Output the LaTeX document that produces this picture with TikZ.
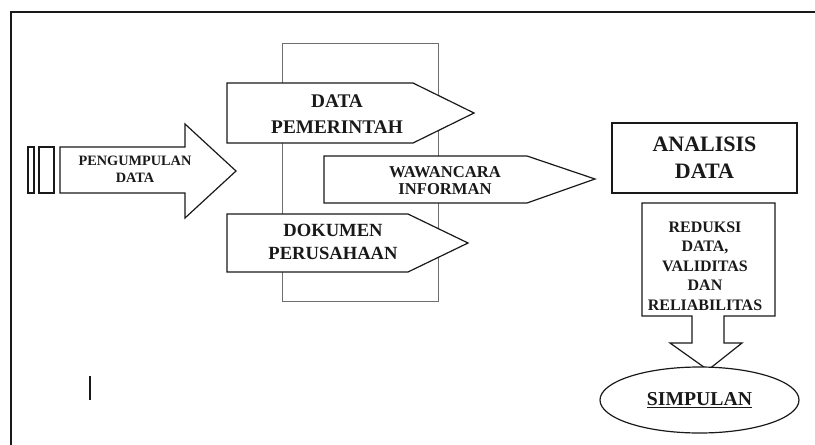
\documentclass[tikz,border=0pt]{standalone}
\usepackage{fontspec}
\setmainfont{Liberation Serif}
\usepackage{xcolor}
\definecolor{ink}{RGB}{25,25,25}
\definecolor{panelgray}{RGB}{110,110,110}
\usetikzlibrary{shapes.geometric,positioning}
\tikzset{
  blockline/.style={draw=ink,line width=1.2pt,fill=white,line join=miter},
  panelline/.style={draw=panelgray,line width=0.9pt},
  txt/.style={font=\bfseries,align=center,inner sep=0pt,text=ink},
}

\begin{document}
\begin{tikzpicture}[x=1pt,y=-1pt]
\useasboundingbox (0,0) rectangle (815,445);
% page frame (open to the right and bottom)
\draw[ink,line width=2pt] (815,12) -- (11,12) -- (11,445);
\draw[ink,line width=1.5pt] (90,376) -- (90,400);

% collection arrow with stripes
\draw[blockline] (28,147) rectangle (34,193);
\draw[blockline] (39,147) rectangle (54,193);
\draw[blockline] (60,147) -- (185,147) -- (185,124) -- (236,171)
  -- (185,218) -- (185,193) -- (60,193) -- cycle;
\node[txt,font=\bfseries\fontsize{14.3}{17}\selectfont] (collect) at (135,169)
  {PENGUMPULAN\\DATA};

% source panel
\draw[panelline] (282,43) rectangle (438,301);
\draw[blockline] (227,83) -- (413,83) -- (474,113) -- (413,143) -- (227,143) -- cycle;
\node[txt,font=\bfseries\fontsize{19.3}{26}\selectfont] (gov) at (337,114)
  {DATA\\PEMERINTAH};
\draw[blockline] (324,156) -- (527,156) -- (595,179) -- (527,203) -- (324,203) -- cycle;
\node[txt,font=\bfseries\fontsize{16.6}{17}\selectfont] (interview) at (445,181)
  {WAWANCARA\\INFORMAN};
\draw[blockline] (227,214) -- (408,214) -- (468,243) -- (408,272) -- (227,272) -- cycle;
\node[txt,font=\bfseries\fontsize{18.6}{23}\selectfont] (docs) at (333,242)
  {DOKUMEN\\PERUSAHAAN};

% analysis column
\node[blockline,txt,font=\bfseries\fontsize{22}{27}\selectfont,
  minimum width=185pt,minimum height=70pt] (analysis) at (704.5,158)
  {ANALISIS\\DATA};
\draw[blockline] (642,203) -- (775,203) -- (775,316) -- (724,316) -- (724,343)
  -- (742,343) -- (708,370) -- (670,343) -- (692,343) -- (692,316)
  -- (642,316) -- cycle;
\node[txt,font=\bfseries\fontsize{16}{19.5}\selectfont] (reduce) at (705,266)
  {REDUKSI\\DATA,\\VALIDITAS\\DAN\\RELIABILITAS};
\node[blockline,ellipse,txt,font=\bfseries\fontsize{19.7}{23}\selectfont,
  minimum width=199pt,minimum height=66pt] (conclusion) at (699.5,400)
  {\underline{SIMPULAN}};
\end{tikzpicture}
\end{document}
